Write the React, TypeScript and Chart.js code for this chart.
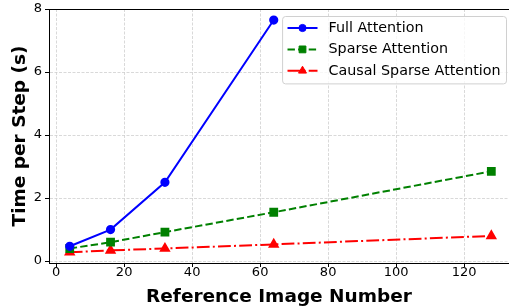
import React, { useEffect, useRef } from "react";
import { Chart, registerables } from "chart.js";
import { drawPoint } from "chart.js/helpers";

Chart.register(...registerables);

const FONT = "'DejaVu Sans', sans-serif";

// Data
const fullX = [4, 16, 32, 64];
const fullY = [0.47, 1.0, 2.5, 7.65];
const sparseX = [4, 16, 32, 64, 128];
const sparseY = [0.4, 0.6, 0.92, 1.55, 2.85];
const causalX = [4, 16, 32, 64, 128];
const causalY = [0.28, 0.34, 0.4, 0.53, 0.8];

const seriesLabels = ["Full Attention", "Sparse Attention", "Causal Sparse Attention"];
const xTickValues = [0, 20, 40, 60, 80, 100, 120];
const yTickValues = [0, 2, 4, 6, 8];
const xLimits = [-2.1, 133.2];
const yLimits = [-0.06, 8];

const toPoints = (xs: number[], ys: number[]) => xs.map((x, i) => ({ x, y: ys[i] }));

const legendPlugin = {
  id: "customLegend",
  afterDraw(chart: any) {
    const ctx = chart.ctx;
    const area = chart.chartArea;
    const fs = 14.3;
    const pad = 5.4;
    const handle = 30;
    const textPad = 11;
    const rowH = 21.4;
    ctx.save();
    ctx.font = `${fs}px ${FONT}`;
    const ds = chart.data.datasets;
    let maxW = 0;
    ds.forEach((d: any) => {
      maxW = Math.max(maxW, ctx.measureText(d.label).width);
    });
    const w = pad * 2 + handle + textPad + maxW;
    const h = pad * 2 + rowH * ds.length - 7.6;
    const right = area.right - 3;
    const left = right - w;
    const top = area.top + 7;
    ctx.beginPath();
    (ctx as any).roundRect(left + 0.5, top + 0.5, w, h, 3);
    ctx.fillStyle = "rgba(255,255,255,0.8)";
    ctx.fill();
    ctx.strokeStyle = "#d0d0d0";
    ctx.lineWidth = 1;
    ctx.stroke();
    ds.forEach((d: any, i: number) => {
      const cy = top + 12 + i * rowH;
      const x0 = left + pad;
      ctx.save();
      ctx.strokeStyle = d.borderColor;
      ctx.lineWidth = d.borderWidth;
      ctx.setLineDash(d.borderDash || []);
      ctx.beginPath();
      ctx.moveTo(x0, cy);
      ctx.lineTo(x0 + handle, cy);
      ctx.stroke();
      ctx.setLineDash([]);
      ctx.fillStyle = d.pointBackgroundColor;
      ctx.strokeStyle = d.pointBorderColor;
      ctx.lineWidth = 1;
      drawPoint(ctx, { pointStyle: d.pointStyle, radius: d.pointRadius, rotation: 0, borderWidth: 1 } as any, x0 + handle / 2, cy);
      ctx.restore();
      ctx.fillStyle = "#000";
      ctx.textBaseline = "middle";
      ctx.textAlign = "left";
      ctx.fillText(d.label, x0 + handle + textPad, cy);
    });
    ctx.restore();
  },
};

const framePlugin = {
  id: "frame",
  afterDatasetsDraw(chart: any) {
    const { ctx, chartArea: a } = chart;
    ctx.save();
    ctx.strokeStyle = "#000";
    ctx.lineWidth = 1;
    ctx.beginPath();
    ctx.moveTo(a.left, a.top + 0.5);
    ctx.lineTo(a.right, a.top + 0.5);
    ctx.stroke();
    ctx.restore();
  },
};

export default function App() {
  const ref = useRef<HTMLCanvasElement | null>(null);
  useEffect(() => {
    if (!ref.current) return;
    const chart = new Chart(ref.current, {
      type: "line",
      data: {
        datasets: [
          {
            label: seriesLabels[0],
            data: toPoints(fullX, fullY),
            borderColor: "#0000ff",
            backgroundColor: "#0000ff",
            pointBackgroundColor: "#0000ff",
            pointBorderColor: "#0000ff",
            borderWidth: 2,
            pointStyle: "circle",
            pointRadius: 3.6,
            borderDash: [],
          },
          {
            label: seriesLabels[1],
            data: toPoints(sparseX, sparseY),
            borderColor: "#008000",
            backgroundColor: "#008000",
            pointBackgroundColor: "#008000",
            pointBorderColor: "#008000",
            borderWidth: 2,
            pointStyle: "rect",
            pointRadius: 4.8,
            borderDash: [7.4, 3.2],
          },
          {
            label: seriesLabels[2],
            data: toPoints(causalX, causalY),
            borderColor: "#ff0000",
            backgroundColor: "#ff0000",
            pointBackgroundColor: "#ff0000",
            pointBorderColor: "#ff0000",
            borderWidth: 2,
            pointStyle: "triangle",
            pointRadius: 4.6,
            borderDash: [12.8, 3.2, 2, 3.2],
          },
        ] as any,
      },
      options: {
        animation: false,
        responsive: false,
        maintainAspectRatio: false,
        layout: { autoPadding: false, padding: { top: 9, right: 0, left: 0, bottom: 0 } },
        plugins: { legend: { display: false }, tooltip: { enabled: false } },
        scales: {
          x: {
            type: "linear",
            min: xLimits[0],
            max: xLimits[1],
            afterBuildTicks: (s: any) => {
              s.ticks = xTickValues.map((v) => ({ value: v }));
            },
            afterFit: (s: any) => {
              s.height = 45;
              s.paddingLeft = 0;
              s.paddingRight = 0;
            },
            grid: {
              color: "#cfcfcf",
              lineWidth: 0.8,
              drawTicks: true,
              tickLength: 4,
              tickColor: "#000",
              tickWidth: 1,
              tickBorderDash: [],
            },
            border: { display: true, color: "#000", width: 1, dash: [3, 1.5] },
            ticks: {
              color: "#000",
              font: { family: FONT, size: 13 },
              padding: -2,
              maxRotation: 0,
              autoSkip: false,
            },
            title: {
              display: true,
              text: "Reference Image Number",
              color: "#000",
              font: { family: FONT, size: 18.5, weight: "bold" },
              padding: { top: 0, bottom: 0 },
            },
          },
          y: {
            type: "linear",
            min: yLimits[0],
            max: yLimits[1],
            afterBuildTicks: (s: any) => {
              s.ticks = yTickValues.map((v) => ({ value: v }));
            },
            afterFit: (s: any) => {
              s.width = 49;
              s.paddingTop = 0;
              s.paddingBottom = 0;
            },
            grid: {
              color: "#cfcfcf",
              lineWidth: 0.8,
              drawTicks: true,
              tickLength: 4,
              tickColor: "#000",
              tickWidth: 1,
              tickBorderDash: [],
            },
            border: { display: true, color: "#000", width: 1, dash: [3, 1.5] },
            ticks: {
              color: "#000",
              font: { family: FONT, size: 13 },
              padding: 3,
              autoSkip: false,
            },
            title: {
              display: true,
              text: "Time per Step (s)",
              color: "#000",
              font: { family: FONT, size: 18.5, weight: "bold" },
              padding: { top: 9, bottom: 0 },
            },
          },
        },
      } as any,
      plugins: [legendPlugin, framePlugin],
    });
    return () => chart.destroy();
  }, []);
  return (
    <div style={{ position: "fixed", left: 0, top: 0, width: 509, height: 308, background: "#fff" }}>
      <canvas ref={ref} width={509} height={308} style={{ width: 509, height: 308, display: "block" }} />
    </div>
  );
}
